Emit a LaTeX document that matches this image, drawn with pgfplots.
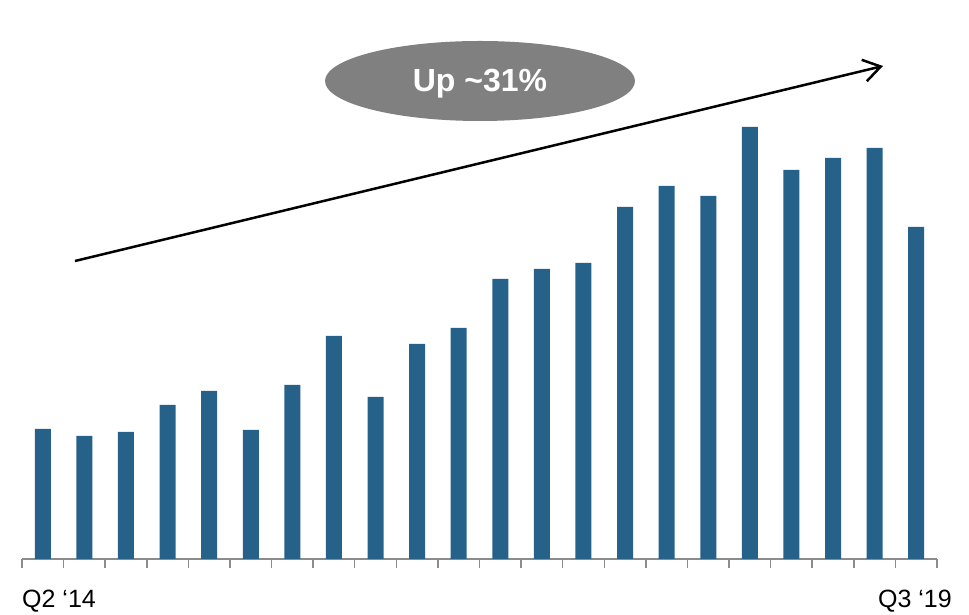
\documentclass[border=0pt]{standalone}
\usepackage{fontspec}
\setmainfont{Liberation Sans}
\usepackage{pgfplots}
\pgfplotsset{compat=1.18}
\usetikzlibrary{arrows.meta}
\definecolor{barblue}{HTML}{26618A}
\definecolor{axgray}{HTML}{8C8C8C}
\definecolor{ellgray}{HTML}{808080}
\begin{document}
\begin{tikzpicture}[x=1pt,y=1pt]
\useasboundingbox (-22,-56) rectangle (947,559);
\begin{axis}[
  at={(0,0)}, anchor=south west,
  scale only axis,
  width=915pt, height=559pt,
  xmin=-0.5, xmax=21.5,
  ymin=0, ymax=559,
  axis x line*=bottom,
  axis y line=none,
  x axis line style={draw=axgray, line width=1.5pt},
  xtick={-0.5,0.5,...,21.5},
  xticklabels={},
  ytick=\empty,
  tick align=outside,
  major tick length=9pt,
  x tick style={draw=axgray, line width=1.5pt},
  ybar, bar width=16pt,
  clip=false,
]
\addplot[fill=barblue, draw=none] coordinates {
(0,130) (1,123) (2,127) (3,154) (4,168) (5,129) (6,174) (7,223) (8,162) (9,215)
(10,231) (11,280) (12,290) (13,296) (14,352) (15,373) (16,363) (17,432) (18,389)
(19,401) (20,411) (21,332)
};
\end{axis}
\node[anchor=base west, inner sep=0pt, font=\fontsize{25}{30}\selectfont] at (0,-49) {Q2 ‘14};
\node[anchor=base east, inner sep=0pt, font=\fontsize{25}{30}\selectfont] at (930,-49) {Q3 ‘19};
\draw[line width=2.5pt, -{Straight Barb[length=17pt,width=22pt]}] (53,298) -- (861,493);
\fill[ellgray] (458,478) ellipse [x radius=155pt, y radius=40pt];
\node[anchor=base, inner sep=0pt, text=white, font=\bfseries\fontsize{32}{38}\selectfont] at (458,467) {Up \textasciitilde31\%};
\end{tikzpicture}
\end{document}
